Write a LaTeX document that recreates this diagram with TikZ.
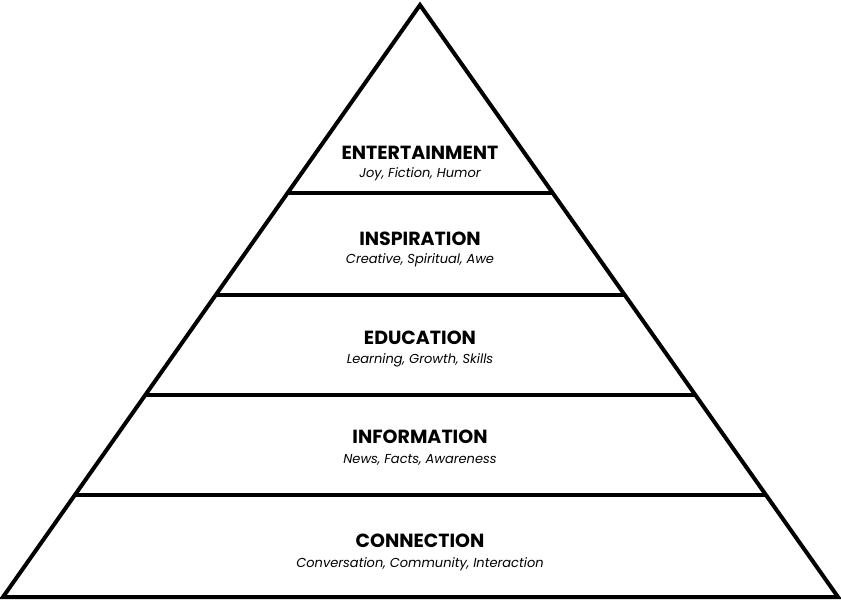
\documentclass[tikz,border=0pt]{standalone}
\usepackage{fontspec}
\setmainfont{Poppins}
\begin{document}
\begin{tikzpicture}[x=1pt,y=-1pt,
  ttl/.style={font=\fontsize{19}{20}\selectfont\bfseries, inner sep=0},
  sub/.style={font=\fontsize{13}{14}\selectfont\itshape, inner sep=0},
  edge/.style={line width=4pt, line join=miter}]
\useasboundingbox (0,0) rectangle (841,600);
\coordinate (apex) at (420,5);
\coordinate (bl) at (3,597);
\coordinate (br) at (838,597);
\draw[edge] (apex) -- (br) -- (bl) -- cycle;
\foreach \y in {193,295,395,495}{
  \pgfmathsetmacro{\hw}{(\y-5)/592*417.5}
  \draw[edge] (420-\hw,\y) -- (420+\hw,\y);
}
\node[ttl] (t1) at (420,153) {ENTERTAINMENT};
\node[sub] (s1) at (420,174) {Joy, Fiction, Humor};
\node[ttl] (t2) at (420,239) {INSPIRATION};
\node[sub] (s2) at (420,260) {Creative, Spiritual, Awe};
\node[ttl] (t3) at (420,338) {EDUCATION};
\node[sub] (s3) at (420,360) {Learning, Growth, Skills};
\node[ttl] (t4) at (420,437) {INFORMATION};
\node[sub] (s4) at (420,460) {News, Facts, Awareness};
\node[ttl] (t5) at (420,541) {CONNECTION};
\node[sub] (s5) at (420,564) {Conversation, Community, Interaction};
\end{tikzpicture}
\end{document}
